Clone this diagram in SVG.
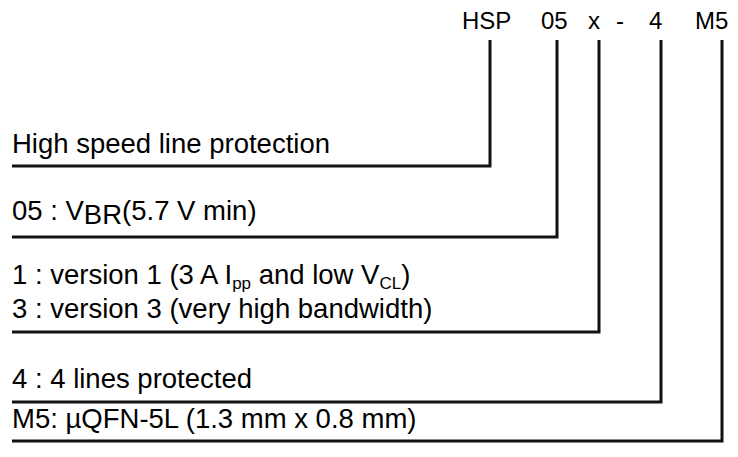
<svg xmlns="http://www.w3.org/2000/svg" width="738" height="457" viewBox="0 0 738 457">
<style>
.t{font-family:"Liberation Sans",Arial,sans-serif;fill:#000}
.top{font-size:24px}
.lbl{font-size:27.5px}
.sub{font-size:17px}
.c{fill:none;stroke:#111;stroke-width:3}
</style>
<rect width="738" height="457" fill="#fff"/>
<g id="code">
<text class="t top" x="462" y="29">HSP</text>
<text class="t top" x="541" y="29">05</text>
<text class="t top" x="588" y="29">x</text>
<text class="t top" x="616" y="29">-</text>
<text class="t top" x="649" y="29">4</text>
<text class="t top" x="695" y="29">M5</text>
</g>
<g id="n1"><text class="t lbl" x="12" y="153">High speed line protection</text></g>
<g id="n2"><text class="t lbl" x="12" y="220">05 : V<tspan dy="4">BR</tspan><tspan dy="-4">(5.7 V min)</tspan></text></g>
<g id="n3">
<text class="t lbl" x="12" y="284">1 : version 1 (3 A I<tspan class="sub" dy="5">pp</tspan><tspan dy="-5"> and low V</tspan><tspan class="sub" dy="5">CL</tspan><tspan dy="-5">)</tspan></text>
<text class="t lbl" x="12" y="318">3 : version 3 (very high bandwidth)</text>
</g>
<g id="n4"><text class="t lbl" x="12" y="388">4 : 4 lines protected</text></g>
<g id="n5"><text class="t lbl" x="12" y="428">M5: µQFN-5L (1.3 mm x 0.8 mm)</text></g>
<g id="connectors">
<polyline class="c" points="490,40 490,166 12,166"/>
<polyline class="c" points="557,40 557,237 12,237"/>
<polyline class="c" points="599,40 599,332 12,332"/>
<polyline class="c" points="661,40 661,402 12,402"/>
<polyline class="c" points="722,40 722,441 12,441"/>
</g>
</svg>
